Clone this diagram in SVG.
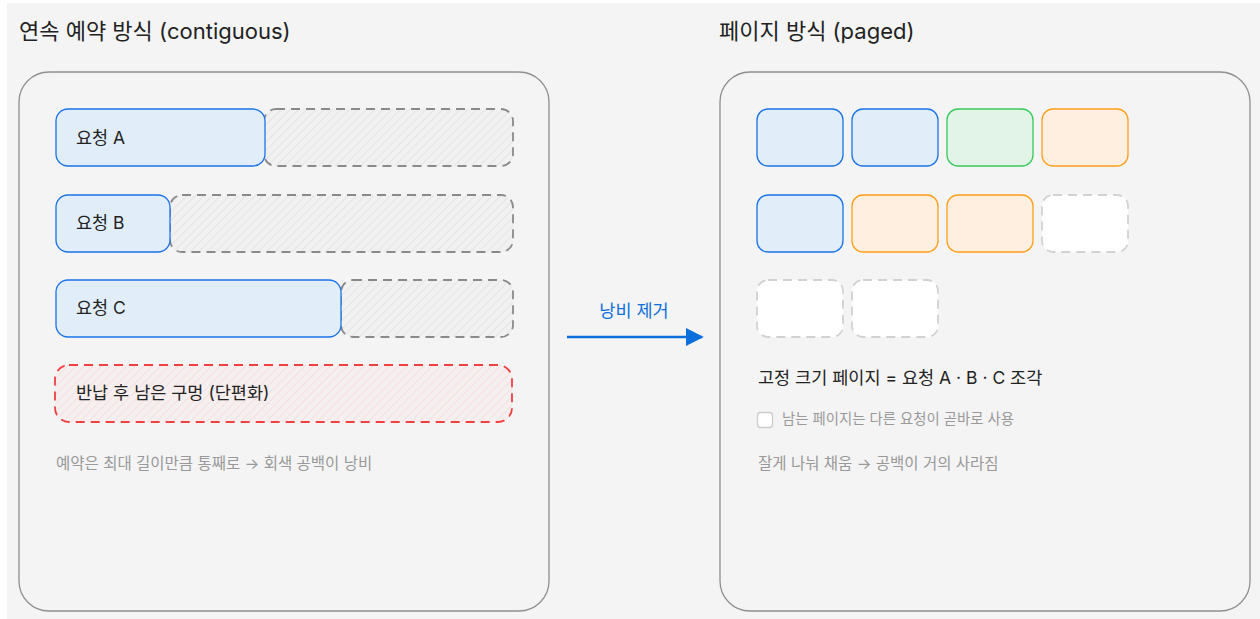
<svg xmlns="http://www.w3.org/2000/svg" width="1260" height="619" viewBox="0 0 1260 619">
<defs>
<pattern id="hatchGray" patternUnits="userSpaceOnUse" width="6" height="6" patternTransform="rotate(45)">
<rect width="6" height="6" fill="#f1f1f1"/>
<line x1="0" y1="0" x2="0" y2="6" stroke="#dcdcdc" stroke-width="1.2"/>
</pattern>
<pattern id="hatchRed" patternUnits="userSpaceOnUse" width="6" height="6" patternTransform="rotate(45)">
<rect width="6" height="6" fill="#f6efef"/>
<line x1="0" y1="0" x2="0" y2="6" stroke="#f4d6d6" stroke-width="1.2"/>
</pattern>
<marker id="arrowBlue" viewBox="0 0 10 10" refX="9" refY="5" markerWidth="18" markerHeight="18" markerUnits="userSpaceOnUse" orient="auto">
<path d="M0,0 L10,5 L0,10 z" fill="#0b6fdc"/>
</marker>
</defs>
<style>
text { font-family: "Inter", "Noto Sans CJK KR", sans-serif; }
.title { font-size: 22px; fill: #222; }
.label { font-size: 17.5px; fill: #222; }
.note { font-size: 15.5px; fill: #999; }
.note2 { font-size: 14.4px; fill: #999; }
.panel { fill: #f4f4f4; stroke: #8f8f8f; stroke-width: 1.3; }
.req { fill: #e1eefa; stroke: #1a73e8; stroke-width: 1.3; }
.waste { fill: url(#hatchGray); stroke: #8a8a8a; stroke-width: 1.8; stroke-dasharray: 9 6; }
.hole { fill: url(#hatchRed); stroke: #f04040; stroke-width: 1.8; stroke-dasharray: 9 6; }
.pg-blue { fill: #e1eefa; stroke: #1a73e8; stroke-width: 1.3; }
.pg-green { fill: #e2f4e8; stroke: #38c95c; stroke-width: 1.3; }
.pg-orange { fill: #ffefe0; stroke: #ff9f1a; stroke-width: 1.3; }
.pg-empty { fill: #ffffff; stroke: #d2d2d2; stroke-width: 1.8; stroke-dasharray: 9 6; }
</style>
<rect x="0" y="0" width="1260" height="619" fill="#ffffff"/>
<rect x="7" y="3" width="1253" height="616" fill="#f4f4f4"/>

<g id="left-panel">
<text class="title" x="19" y="39">연속 예약 방식 (contiguous)</text>
<rect class="panel" x="19" y="72" width="530" height="539" rx="30"/>
</g>
<g id="req-a">
<rect class="waste" x="264" y="109" width="249" height="57" rx="12"/>
<rect class="req" x="56" y="109" width="209" height="57" rx="12"/>
<text class="label" x="76" y="143.5">요청 A</text>
</g>
<g id="req-b">
<rect class="waste" x="170" y="195" width="343" height="57" rx="12"/>
<rect class="req" x="56" y="195" width="114" height="57" rx="12"/>
<text class="label" x="76" y="228.5">요청 B</text>
</g>
<g id="req-c">
<rect class="waste" x="341" y="280" width="172" height="57" rx="12"/>
<rect class="req" x="56" y="280" width="285" height="57" rx="12"/>
<text class="label" x="76" y="313.5">요청 C</text>
</g>
<g id="hole">
<rect class="hole" x="55" y="365" width="457" height="57" rx="14"/>
<text class="label" x="76" y="398.5">반납 후 남은 구멍 (단편화)</text>
</g>
<g id="left-note">
<text class="note" x="56" y="469">예약은 최대 길이만큼 통째로 → 회색 공백이 낭비</text>
</g>

<g id="connectors">
<line x1="567" y1="337" x2="702" y2="337" stroke="#0b6fdc" stroke-width="2.5" marker-end="url(#arrowBlue)"/>
<text x="634" y="317" text-anchor="middle" font-size="17.5" fill="#0b6fdc">낭비 제거</text>
</g>

<g id="right-panel">
<text class="title" x="719" y="39">페이지 방식 (paged)</text>
<rect class="panel" x="720" y="72" width="530" height="539" rx="30"/>
</g>
<g id="pages">
<rect class="pg-blue" x="757" y="109" width="86" height="57" rx="11"/>
<rect class="pg-blue" x="852" y="109" width="86" height="57" rx="11"/>
<rect class="pg-green" x="947" y="109" width="86" height="57" rx="11"/>
<rect class="pg-orange" x="1042" y="109" width="86" height="57" rx="11"/>
<rect class="pg-blue" x="757" y="195" width="86" height="57" rx="11"/>
<rect class="pg-orange" x="852" y="195" width="86" height="57" rx="11"/>
<rect class="pg-orange" x="947" y="195" width="86" height="57" rx="11"/>
<rect class="pg-empty" x="1042" y="195" width="86" height="57" rx="11"/>
<rect class="pg-empty" x="757" y="280" width="86" height="57" rx="11"/>
<rect class="pg-empty" x="852" y="280" width="86" height="57" rx="11"/>
</g>
<g id="right-notes">
<text class="label" x="758" y="384">고정 크기 페이지 = 요청 A · B · C 조각</text>
<rect x="757.5" y="412.5" width="15" height="15" rx="3" fill="#ffffff" stroke="#cccccc" stroke-width="1.3"/>
<text class="note2" x="782" y="424">남는 페이지는 다른 요청이 곧바로 사용</text>
<text class="note" x="758" y="469">잘게 나눠 채움 → 공백이 거의 사라짐</text>
</g>
</svg>
